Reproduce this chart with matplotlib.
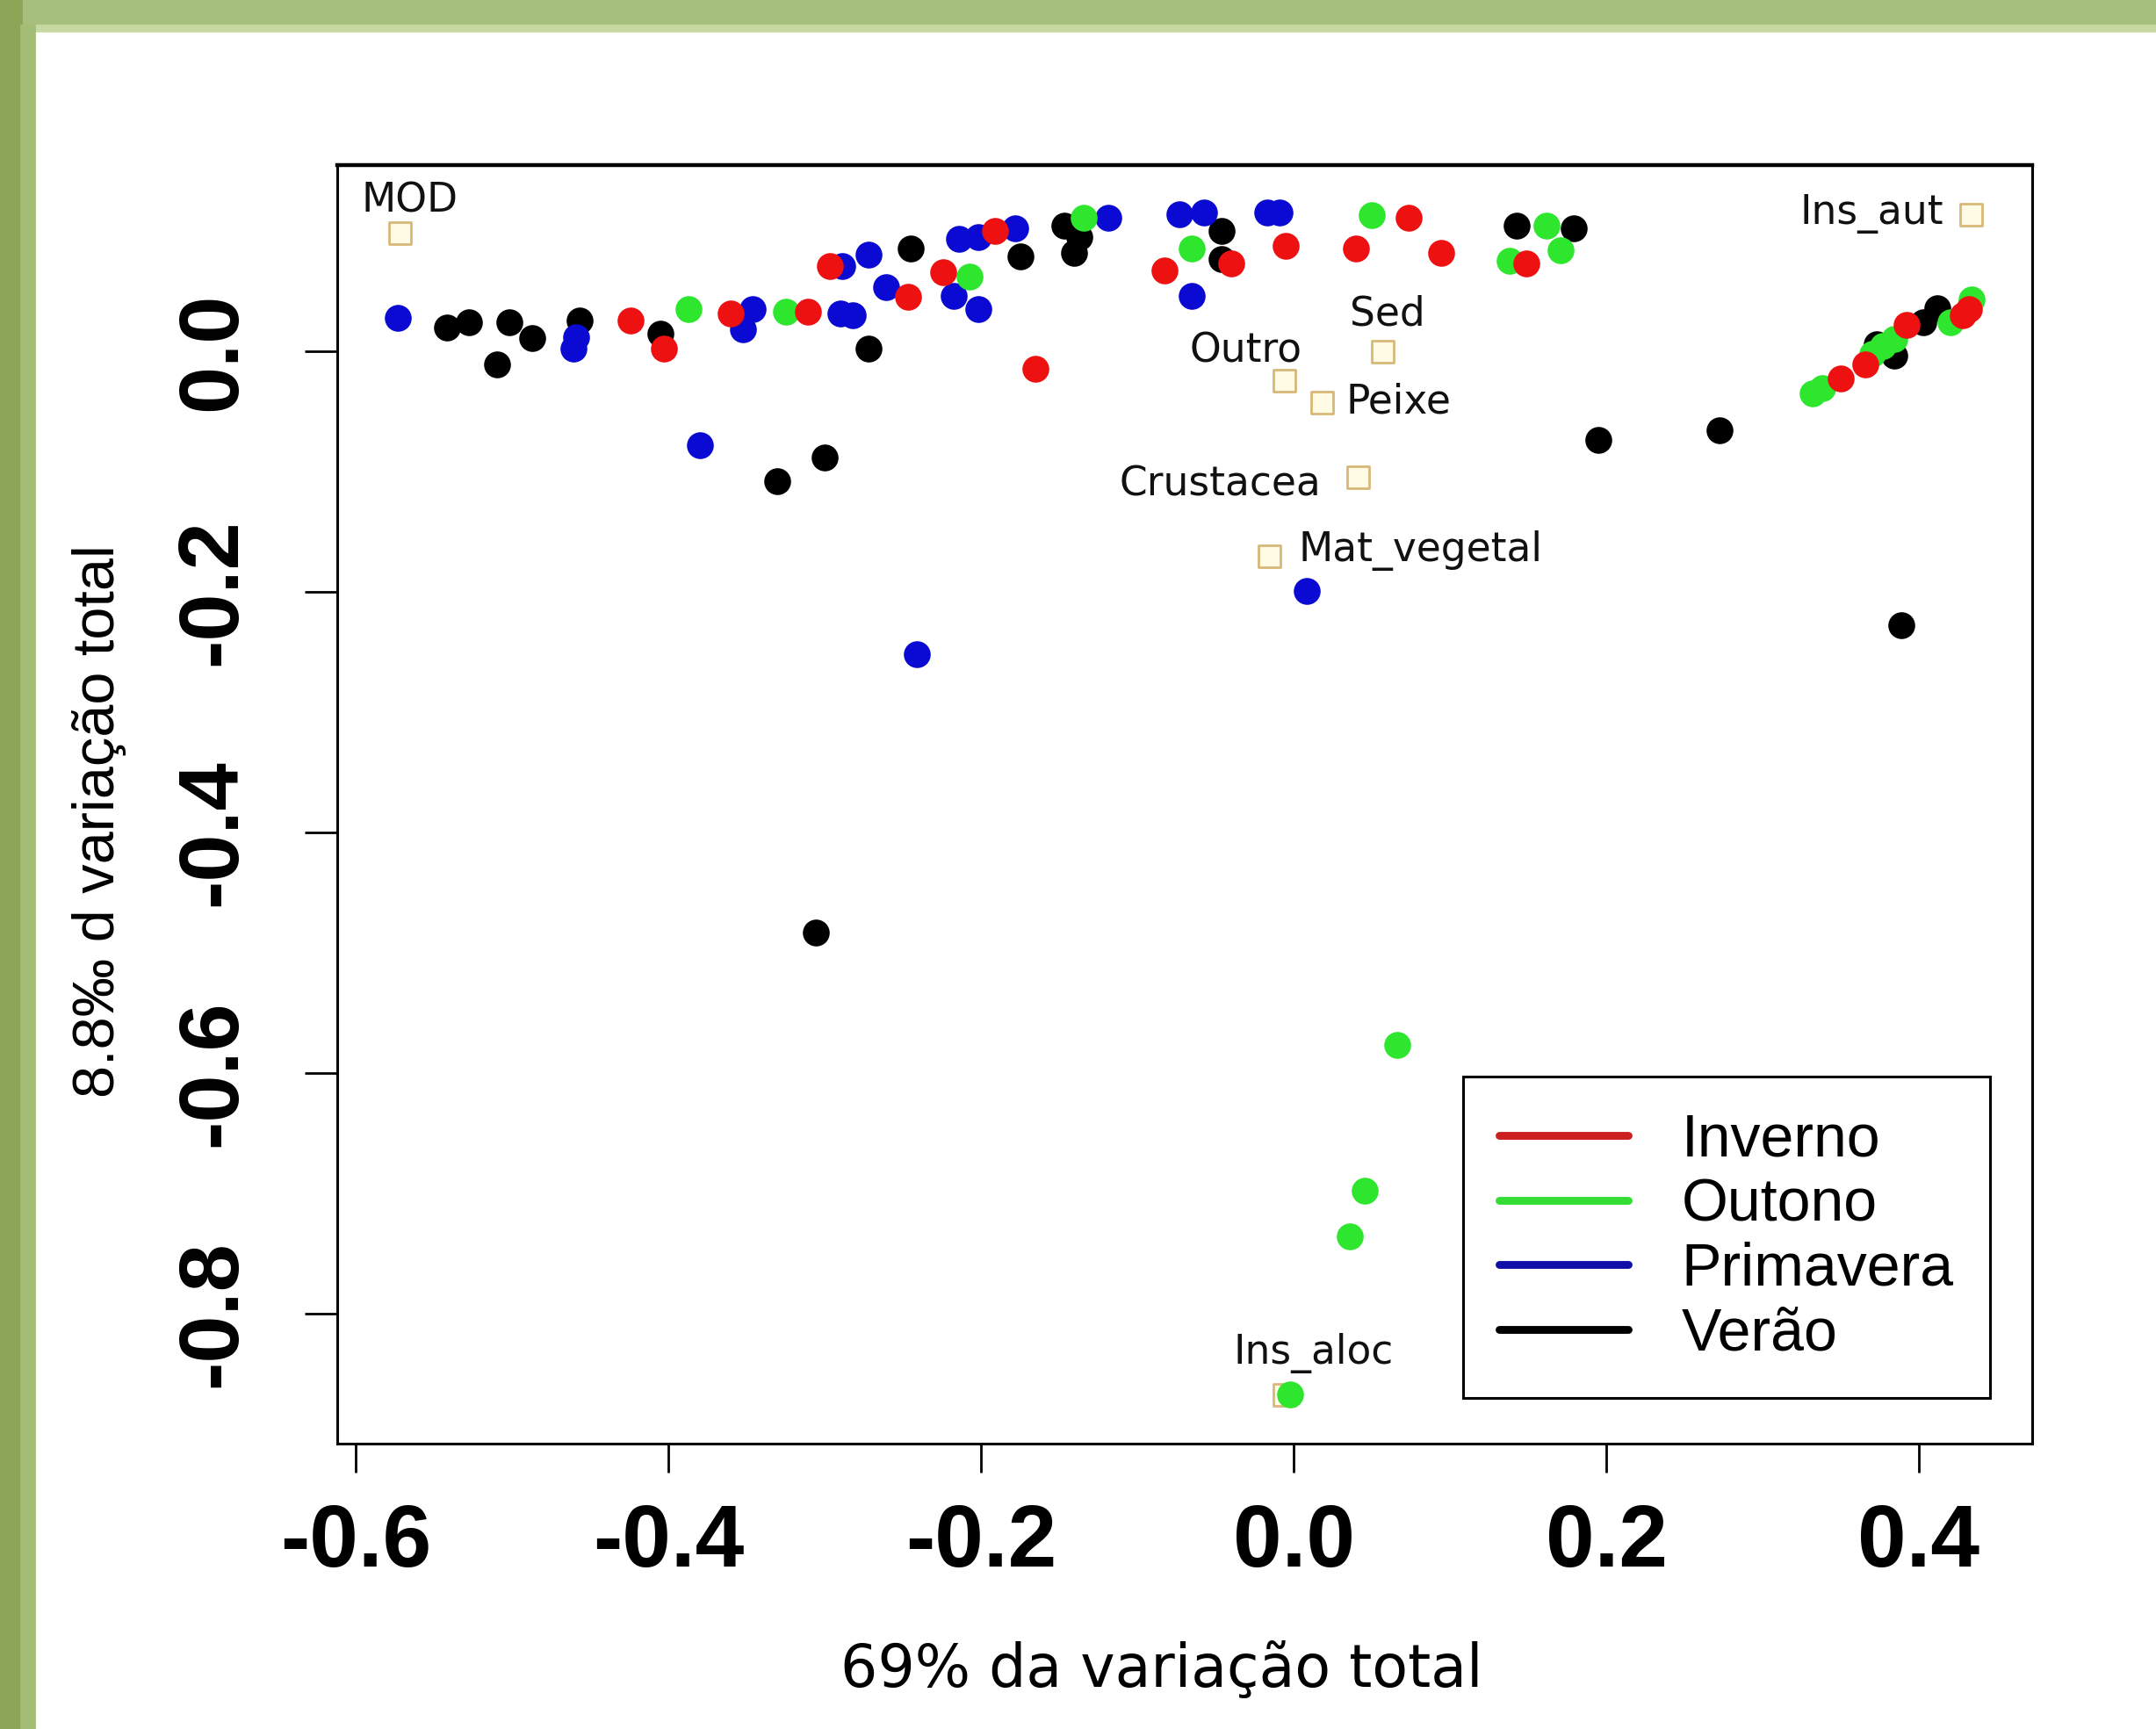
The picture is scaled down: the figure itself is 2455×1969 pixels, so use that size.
import matplotlib.pyplot as plt
import numpy as np
from matplotlib.lines import Line2D
from matplotlib.patches import Rectangle

# seasons: (x, y) scores
inverno_x = [-0.4245, -0.403, -0.360, -0.311, -0.297, -0.2466, -0.224, -0.1914, -0.1652,
             -0.0828, -0.0397, -0.0051, 0.0399, 0.0735, 0.0942, 0.149,
             0.350, 0.366, 0.392, 0.428, 0.432]
inverno_y = [0.0255, 0.0024, 0.0316, 0.033, 0.0706, 0.045, 0.0657, 0.0998, -0.0146,
             0.0669, 0.073, 0.0876, 0.0852, 0.1107, 0.0815, 0.073,
             -0.023, -0.011, 0.022, 0.030, 0.035]

outono_x = [-0.387, -0.325, -0.2073, -0.1343, -0.065, 0.0502, 0.1616, 0.1709, 0.138,
            0.066, 0.0457, 0.036, -0.0026,
            0.332, 0.338, 0.370, 0.377, 0.384, 0.420, 0.434]
outono_y = [0.0353, 0.033, 0.062, 0.1107, 0.085, 0.1131, 0.1046, 0.0839, 0.0754,
            -0.5766, -0.6977, -0.7354, -0.867,
            -0.035, -0.031, -0.002, 0.004, 0.010, 0.024, 0.043]

primavera_x = [-0.573, -0.459, -0.461, -0.346, -0.3525, -0.290, -0.282, -0.289, -0.272,
               -0.2607, -0.2176, -0.2017, -0.2139, -0.2017, -0.1783, -0.1184, -0.073,
               -0.0575, -0.0172, -0.009, -0.065, 0.0086, -0.38, -0.241]
primavera_y = [0.028, 0.012, 0.002, 0.0353, 0.018, 0.031, 0.030, 0.0706, 0.080,
               0.0535, 0.046, 0.0353, 0.0937, 0.0949, 0.1022, 0.1107, 0.114,
               0.1156, 0.1156, 0.1156, 0.0462, -0.1995, -0.078, -0.252]

verao_x = [-0.5416, -0.5275, -0.502, -0.487, -0.510, -0.457, -0.405, -0.272, -0.245,
           -0.1746, -0.1465, -0.137, -0.1408, -0.0462, -0.0462, 0.1429, 0.1794,
           0.195, 0.2726, 0.3887, -0.3307, -0.30, -0.306,
           0.373, 0.384, 0.403, 0.412]
verao_y = [0.0195, 0.0243, 0.0243, 0.011, -0.011, 0.0255, 0.0146, 0.0024, 0.085,
           0.079, 0.1046, 0.0949, 0.0815, 0.0998, 0.0766, 0.1046, 0.1022,
           -0.0737, -0.0657, -0.228, -0.108, -0.0886, -0.483,
           0.006, -0.004, 0.024, 0.036]

# diet items
itens = ['MOD', 'Ins_aut', 'Sed', 'Outro', 'Peixe', 'Crustacea', 'Mat_vegetal', 'Ins_aloc']
itens_x = [-0.572, 0.433, 0.0567, -0.006, 0.018, 0.041, -0.0157, -0.006]
itens_y = [0.0985, 0.114, 0.0, -0.0243, -0.0426, -0.1046, -0.170, -0.867]

estacoes = ['Inverno', 'Outono', 'Primavera', 'Verão']
cores_leg = ['#cc2020', '#33dd33', '#1010a8', '#000000']

# label placement around each square (offset in points, alignment)
lab_style = {
    'MOD': (4, 13, 'center', 'center'),
    'Ins_aut': (-11, 0, 'right', 'center'),
    'Sed': (2, 15, 'center', 'center'),
    'Outro': (-16, 12, 'center', 'center'),
    'Peixe': (10, 0, 'left', 'center'),
    'Crustacea': (-15, -3, 'right', 'center'),
    'Mat_vegetal': (12, 2, 'left', 'center'),
    'Ins_aloc': (12, 17, 'center', 'center'),
}

W, H = 2455, 1969
fig = plt.figure(figsize=(W / 200, H / 200), dpi=200)
fig.patch.set_facecolor('white')

# green slide frame
fig.patches.append(Rectangle((0, 1 - 29 / H), 1, 29 / H, transform=fig.transFigure,
                             color='#a7bf7c', zorder=0))
fig.patches.append(Rectangle((0, 1 - 35 / H), 1, 6 / H, transform=fig.transFigure,
                             color='#c6d9a3', zorder=0))
fig.patches.append(Rectangle((0, 0), 24 / W, 1, transform=fig.transFigure,
                             color='#8ca556', zorder=0))
fig.patches.append(Rectangle((24 / W, 0), 15 / W, 1 - 29 / H, transform=fig.transFigure,
                             color='#a3bc76', zorder=0))

ax = fig.add_axes([384 / W, 1 - 1644 / H, (2314 - 384) / W, (1644 - 188) / H])

ms = 11
ax.scatter(verao_x, verao_y, s=ms ** 2, color='black', zorder=3, linewidths=0)
ax.scatter(primavera_x, primavera_y, s=ms ** 2, color='#0a0ad2', zorder=3, linewidths=0)
ax.scatter(outono_x, outono_y, s=ms ** 2, color='#2ee62e', zorder=3, linewidths=0)
ax.scatter(inverno_x, inverno_y, s=ms ** 2, color='#ee1111', zorder=3, linewidths=0)

ax.scatter(itens_x, itens_y, marker='s', s=9 ** 2, facecolor='#fffbe4',
           edgecolor='#d8b878', linewidths=1.0, zorder=2)
for nome, x, y in zip(itens, itens_x, itens_y):
    dx, dy, ha, va = lab_style[nome]
    ax.annotate(nome, (x, y), xytext=(dx, dy), textcoords='offset points',
                ha=ha, va=va, fontsize=16.4, family='DejaVu Sans', color='#111111',
                zorder=4)

ax.set_xlim(-0.612, 0.4725)
ax.set_ylim(-0.908, 0.1547)
ax.set_xticks([-0.6, -0.4, -0.2, 0.0, 0.2, 0.4])
ax.set_yticks([0.0, -0.2, -0.4, -0.6, -0.8])
ax.set_xticklabels(['-0.6', '-0.4', '-0.2', '0.0', '0.2', '0.4'],
                   fontsize=36, fontweight='bold', family='Liberation Sans')
ax.set_yticklabels(['0.0', '-0.2', '-0.4', '-0.6', '-0.8'],
                   fontsize=35, fontweight='bold', family='Liberation Sans',
                   rotation=90, va='center')
ax.tick_params(axis='x', length=12, width=1, pad=12)
ax.tick_params(axis='y', length=13.5, width=1, pad=21)
for s in ax.spines.values():
    s.set_linewidth(1.1)
ax.spines['top'].set_linewidth(1.6)

handles = [Line2D([], [], color=c, lw=3.2, solid_capstyle='round') for c in cores_leg]
leg = ax.legend(handles, estacoes, loc='lower right', bbox_to_anchor=(0.975, 0.0355),
                borderaxespad=0, fancybox=False, edgecolor='black', framealpha=1,
                prop={'family': 'Liberation Sans', 'size': 24.5},
                handlelength=2.15, handletextpad=0.9, labelspacing=0.14,
                borderpad=0.6)
leg.get_frame().set_linewidth(1.1)

fig.text(1323 / W, 1 - 1902 / H, '69% da variação total', ha='center', va='center',
         fontsize=24, family='DejaVu Sans')
fig.text(113 / W, 1 - 935 / H, '8.8‰ d variação total', ha='center', va='center',
         rotation=90, fontsize=24, family=['Liberation Sans', 'DejaVu Sans'])

fig.savefig('out.png', dpi=200)
